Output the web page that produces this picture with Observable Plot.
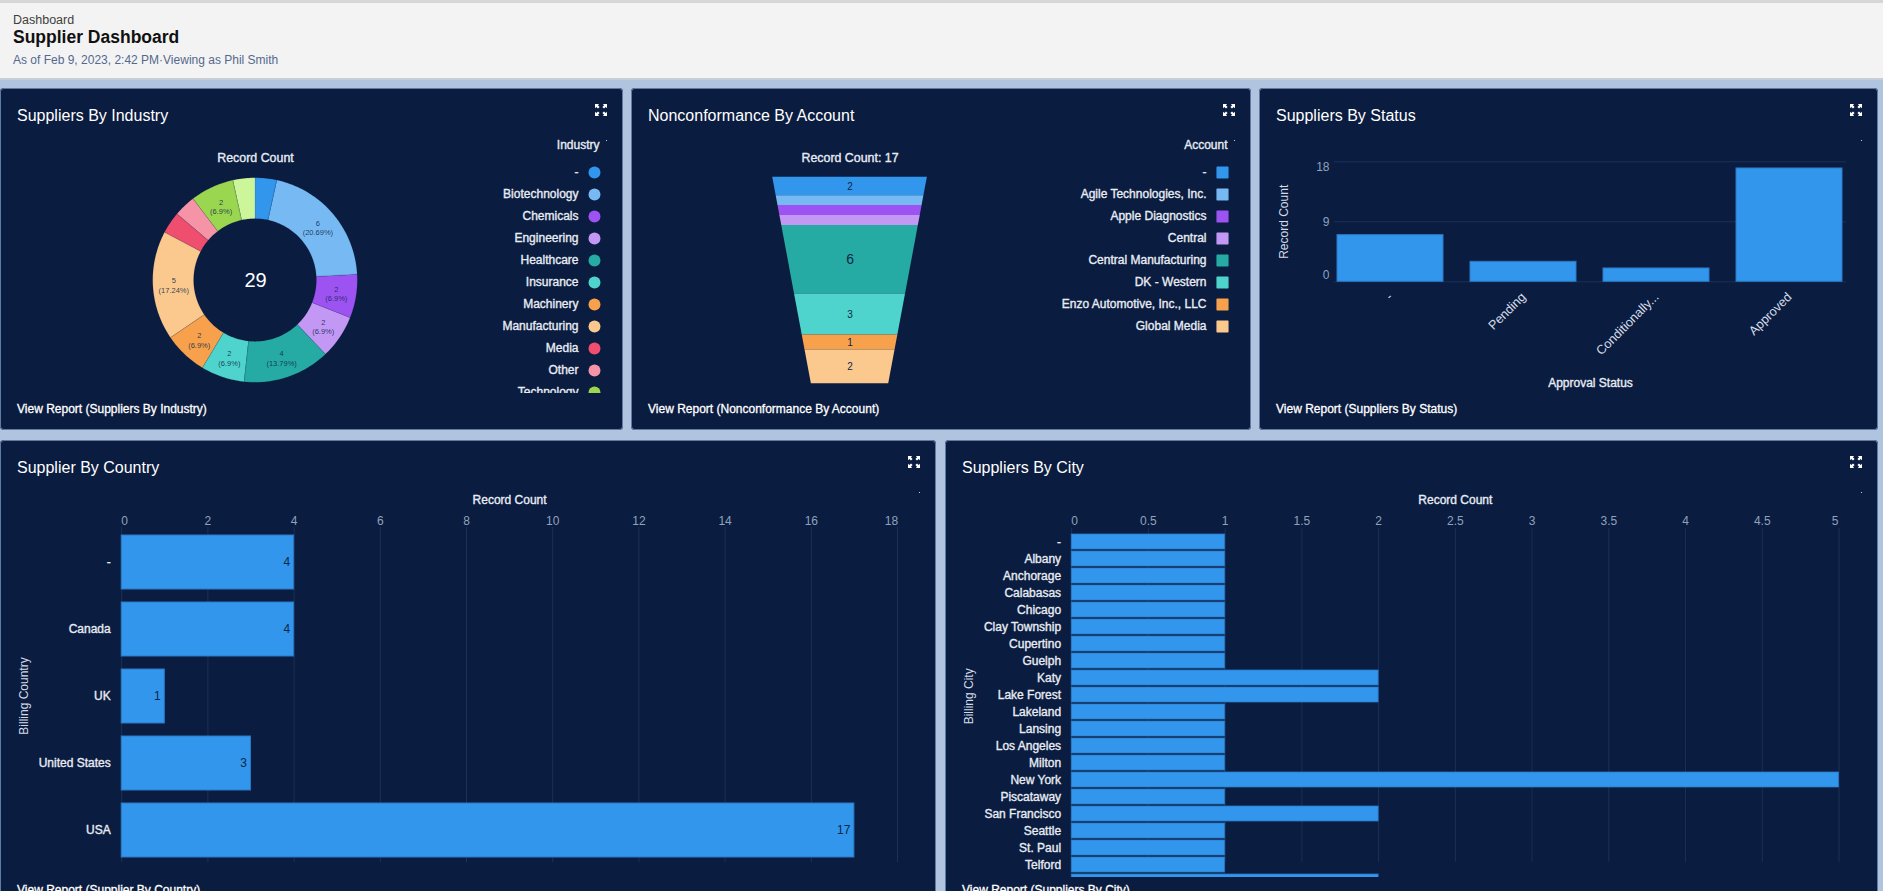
<!DOCTYPE html>
<html>
<head>
<meta charset="utf-8">
<script src="https://cdn.jsdelivr.net/npm/d3@7"></script>
<script src="https://cdn.jsdelivr.net/npm/@observablehq/plot@0.6"></script>
<style>
html,body{margin:0;padding:0;width:1883px;height:891px;overflow:hidden;background:#b0c4df;font-family:"Liberation Sans",Arial,sans-serif}
.hdr{position:absolute;left:0;top:0;width:1883px;height:80px;background:#f3f3f3;border-top:3px solid #d6d6d6;border-bottom:2px solid #c9ced6;box-sizing:border-box}
.hdr div{position:absolute;left:13px;white-space:nowrap}
.panel{position:absolute;background:#0a1c3f;border-radius:4px;box-shadow:0 0 0 1px #5f7ba3 inset;overflow:hidden}
.panel .t{position:absolute;left:17px;top:18px;color:#fff;font-size:16px;line-height:20px;white-space:nowrap}
.panel .r{position:absolute;left:17px;color:#fff;font-size:12px;line-height:16px;white-space:nowrap;-webkit-text-stroke:.3px #fff}
.panel svg.ic{position:absolute;top:16px}
.panel .d{position:absolute;top:52px;width:1px;height:1px;background:#c8d0dc}
.slot{position:absolute;overflow:hidden}
.slot svg{display:block}
</style>
</head>
<body>
<div class="hdr">
  <div style="top:10px;font-size:12.5px;line-height:14px;color:#3e3e3c">Dashboard</div>
  <div style="top:23px;font-size:17.5px;line-height:22px;font-weight:bold;color:#111">Supplier Dashboard</div>
  <div style="top:50px;font-size:12px;line-height:14px;color:#54698d">As of Feb 9, 2023, 2:42 PM·Viewing as Phil Smith</div>
</div>
<div id="root"></div>
<script>
// ---------- data ----------
const palette = ["#3296ed","#77b9f2","#9d53f2","#c398f5","#26aba4","#4ed4cd","#f7a14c","#fbc98e","#ef4e6e","#f594a6","#9ad64f","#cdf59a"];

const industryNames = ["-","Biotechnology","Chemicals","Engineering","Healthcare","Insurance","Machinery","Manufacturing","Media","Other","Technology","(cut off)"];
const industryValues = [1,6,2,2,4,2,2,5,1,1,2,1];

const accountNames = ["-","Agile Technologies, Inc.","Apple Diagnostics","Central","Central Manufacturing","DK - Western","Enzo Automotive, Inc., LLC","Global Media"];
const accountValues = [2,1,1,1,6,3,1,2];

const statusNames = ["-","Pending","Conditionally...","Approved"];
const statusValues = [7,3,2,17];

const countryNames = ["-","Canada","UK","United States","USA"];
const countryValues = [4,4,1,3,17];
const countryTicks = [0,2,4,6,8,10,12,14,16,18];

const cityNames = ["-","Albany","Anchorage","Calabasas","Chicago","Clay Township","Cupertino","Guelph","Katy","Lake Forest","Lakeland","Lansing","Los Angeles","Milton","New York","Piscataway","San Francisco","Seattle","St. Paul","Telford","(cut off)"];
const cityValues = [1,1,1,1,1,1,1,1,2,2,1,1,1,1,5,1,2,1,1,1,2];
const cityTicks = [0,0.5,1,1.5,2,2.5,3,3.5,4,4.5,5];

// ---------- styles ----------
const BRIGHT = "#e8ecf4", MUTED = "#8fa2be", GRID = "#1b3157", DARK = "#0b2748", BAR = "#3296ed", EDGE = "#2a78c4";
const FONT = '"Liberation Sans", Arial, sans-serif';
const base = {style:{background:"transparent",fontFamily:FONT,fontSize:"12px",color:BRIGHT}};
const strong = {fontSize:12, fill:BRIGHT, stroke:BRIGHT, strokeWidth:.35};
const strongAxis = {fontSize:12, fill:BRIGHT, textStroke:BRIGHT, textStrokeWidth:.35};
const tickText = {tickSize:0,label:null,fill:MUTED,fontSize:12,tickFormat:d=>String(d)};

// ---------- page scaffolding ----------
const root = document.getElementById("root");
const icon = '<path d="M0 0h4.2L2.9 1.3 4.6 3 3 4.6 1.3 2.9 0 4.2zM12 0v4.2L10.7 2.9 9 4.6 7.4 3 9.1 1.3 7.8 0zM0 12V7.8l1.3 1.3L3 7.4 4.6 9 2.9 10.7 4.2 12zM12 12H7.8l1.3-1.3L7.4 9 9 7.4l1.7 1.7L12 7.8z" fill="#fff"/>';
function panel(x,y,w,h,title,reportTop){
  const p = document.createElement("div");
  p.className = "panel";
  p.style.cssText = `left:${x}px;top:${y}px;width:${w}px;height:${h}px`;
  p.innerHTML = `<div class="t">${title}</div><div class="r" style="top:${reportTop}px">View Report (${title})</div>`+
    `<svg class="ic" width="12" height="12" viewBox="0 0 12 12" style="left:${w-28}px">${icon}</svg>`+
    `<div class="d" style="left:${w-17}px"></div>`;
  root.appendChild(p);
  return p;
}
function place(p,chart,x,y,w,h){
  const s = document.createElement("div");
  s.className = "slot";
  s.style.cssText = `left:${x}px;top:${y}px;width:${w}px;height:${h}px`;
  s.appendChild(chart);
  p.appendChild(s);
}
function legend(names,colors,heading,symbol,r,w,h,y0){
  const rows = names.map((n,i)=>({n,c:colors[i]}));
  return Plot.plot({...base,width:w,height:h,marginLeft:0,marginTop:0,marginBottom:0,marginRight:29,
    x:{axis:null},
    y:{axis:null,type:"point",padding:0,domain:names,range:[y0,y0+22*(names.length-1)]},
    marks:[
      Plot.dot(rows,{y:"n",frameAnchor:"right",fill:d=>d.c,stroke:d=>d.c,strokeWidth:symbol==="square"?1.5:0,strokeLinejoin:"round",symbol,r}),
      Plot.text(rows,{y:"n",text:"n",frameAnchor:"right",textAnchor:"end",dx:-16,...strong}),
      Plot.text([heading],{text:d=>d,frameAnchor:"top-right",textAnchor:"end",dy:5,dx:5,...strong})
    ]});
}

// ---------- Suppliers By Industry: donut ----------
{
  const p = panel(0,88,623,342,"Suppliers By Industry",313);
  const total = d3.sum(industryValues);
  const INNER = 0.6;
  const arcs = d3.pie().sort(null).value(d=>d)(industryValues);
  const band = [];
  arcs.forEach((a,i)=>{
    const n = Math.ceil((a.endAngle-a.startAngle)/0.02);
    d3.range(n+1).forEach(k=>{
      const t = a.startAngle+(a.endAngle-a.startAngle)*k/n;
      band.push({name:industryNames[i],sx:Math.sin(t),sy:Math.cos(t),ix:INNER*Math.sin(t),iy:INNER*Math.cos(t)});
    });
  });
  const labels = arcs.map((a,i)=>{
    const t=(a.startAngle+a.endAngle)/2, m=(1+INNER)/2;
    return {v:industryValues[i],x:m*Math.sin(t),y:m*Math.cos(t)};
  }).filter(d=>d.v>=2);
  place(p,Plot.plot({...base,width:510,height:342,margin:0,
    x:{axis:null,domain:[-1,1],range:[152.7,357.3]},
    y:{axis:null,domain:[-1,1],range:[294.3,89.7]},
    color:{type:"ordinal",domain:industryNames,range:palette},
    marks:[
      Plot.area(band,{x1:"sx",y1:"sy",x2:"ix",y2:"iy",z:"name",fill:"name",stroke:"#0a1c3f",strokeOpacity:.25,strokeWidth:.5}),
      Plot.text(labels,{x:"x",y:"y",text:d=>`${d.v}\n(${+(d.v/total*100).toFixed(2)}%)`,fontSize:7.5,lineHeight:1.25,fill:DARK,fillOpacity:.85}),
      Plot.text([total],{x:()=>0,y:()=>0,text:d=>String(d),fontSize:20,fill:"#fff"}),
      Plot.text(["Record Count"],{text:d=>d,frameAnchor:"top",dy:65,...strong,fontSize:12.4})
    ]}),0,0,510,342);
  place(p,legend(industryNames.slice(0,11),palette,"Industry","circle",6,223,258,37),400,47,223,258);
}

// ---------- Nonconformance By Account: funnel ----------
{
  const p = panel(631,88,620,342,"Nonconformance By Account",313);
  const total = d3.sum(accountValues);
  // each band's area is proportional to its count; the width narrows to half
  const depth = a => 2-2*Math.sqrt(1-a*0.75);
  let cum = 0;
  const pts = [], tags = [];
  accountNames.forEach((n,i)=>{
    const t0 = depth(cum/total); cum += accountValues[i]; const t1 = depth(cum/total);
    [t0,t1].forEach(t=>pts.push({n,t,l:-(1-t/2),r:1-t/2}));
    tags.push({v:accountValues[i],m:(t0+t1)/2,h:t1-t0});
  });
  const shown = tags.filter(d=>d.h>0.06);
  place(p,Plot.plot({...base,width:620,height:342,margin:0,
    x:{axis:null,domain:[-1,1],range:[141.2,295.9]},
    y:{axis:null,domain:[0,1],range:[88.7,295.3]},
    color:{type:"ordinal",domain:accountNames,range:palette},
    marks:[
      Plot.areaX(pts,{y:"t",x1:"l",x2:"r",z:"n",fill:"n"}),
      Plot.text(shown.filter(d=>d.v<6),{x:()=>0,y:"m",text:d=>String(d.v),fontSize:10,fill:DARK}),
      Plot.text(shown.filter(d=>d.v>=6),{x:()=>0,y:"m",text:d=>String(d.v),fontSize:14,fill:DARK}),
      Plot.text([`Record Count: ${total}`],{text:d=>d,x:()=>0,frameAnchor:"top",dy:65,...strong,fontSize:12.4})
    ]}),0,0,620,342);
  place(p,legend(accountNames,palette.slice(0,8),"Account","square",6,223,258,37),397,47,223,258);
}

// ---------- Suppliers By Status ----------
{
  const p = panel(1259,88,619,342,"Suppliers By Status",313);
  const rows = statusNames.map((n,i)=>({n,v:statusValues[i]}));
  place(p,Plot.plot({...base,width:618,height:342,marginLeft:74,marginRight:32,marginTop:73.3,marginBottom:148.7,
    x:{axis:null,domain:statusNames,paddingInner:.2,paddingOuter:.02},
    y:{axis:null,domain:[0,18]},
    marks:[
      Plot.ruleY([0,9,18],{stroke:GRID}),
      Plot.barY(rows,{x:"n",y:"v",fill:BAR,stroke:EDGE,strokeWidth:1}),
      Plot.axisY({...tickText,ticks:[18],tickPadding:5,dy:5.7}),
      Plot.axisY({...tickText,ticks:[9],tickPadding:5}),
      Plot.axisY({...tickText,ticks:[0],tickPadding:5,dy:-7}),
      Plot.axisX({tickRotate:-45,tickSize:0,tickPadding:13,label:null,fill:"#d4dbe7",fontSize:12.7}),
      Plot.text(["Record Count"],{text:d=>d,frameAnchor:"left",textAnchor:"middle",rotate:-90,dx:-50,fontSize:12,fill:"#d4dbe7"}),
      Plot.text(["Approval Status"],{text:d=>d,frameAnchor:"bottom",textAnchor:"middle",dy:105,...strong})
    ]}),1,0,618,342);
}

// ---------- Supplier By Country ----------
{
  const p = panel(0,440,936,470,"Supplier By Country",442);
  const rows = countryNames.map((n,i)=>({n,v:countryValues[i]}));
  place(p,Plot.plot({...base,width:936,height:451,marginLeft:121.2,marginRight:39,marginTop:87,marginBottom:27,
    x:{axis:null,domain:[0,18]},
    y:{axis:null,domain:countryNames,paddingInner:.2,paddingOuter:.1},
    marks:[
      Plot.ruleX(countryTicks,{stroke:GRID,insetBottom:2}),
      Plot.barX(rows,{y:"n",x:"v",fill:BAR,stroke:EDGE,strokeWidth:1}),
      Plot.text(rows,{y:"n",x:"v",text:d=>String(d.v),textAnchor:"end",dx:-4,fontSize:12,fill:DARK}),
      Plot.axisY({tickSize:0,tickPadding:11,label:null,...strongAxis}),
      Plot.axisX({...tickText,anchor:"top",ticks:[0],tickPadding:2.4,dx:3}),
      Plot.axisX({...tickText,anchor:"top",ticks:countryTicks.slice(1,-1),tickPadding:2.4}),
      Plot.axisX({...tickText,anchor:"top",ticks:[18],tickPadding:2.4,dx:-6}),
      Plot.text(["Record Count"],{text:d=>d,frameAnchor:"top",textAnchor:"middle",dy:-32,...strong}),
      Plot.text(["Billing Country"],{text:d=>d,frameAnchor:"left",textAnchor:"middle",rotate:-90,dx:-98,fontSize:12,fill:"#d4dbe7"})
    ]}),0,0,936,451);
}

// ---------- Suppliers By City ----------
{
  const p = panel(945,440,933,470,"Suppliers By City",442);
  const rows = cityNames.map((n,i)=>({n,v:cityValues[i]}));
  place(p,Plot.plot({...base,width:933,height:451,marginLeft:126.2,marginRight:39.5,marginTop:92.85,marginBottom:1.15,
    x:{axis:null,domain:[0,5]},
    y:{axis:null,domain:cityNames,paddingInner:.1,paddingOuter:.05},
    marks:[
      Plot.ruleX(cityTicks,{stroke:GRID,insetTop:-5,insetBottom:28}),
      Plot.barX(rows,{y:"n",x:"v",fill:BAR,stroke:EDGE,strokeWidth:.8}),
      Plot.axisY({ticks:cityNames.slice(0,20),tickSize:0,tickPadding:10.6,label:null,...strongAxis}),
      Plot.axisX({...tickText,anchor:"top",ticks:[0],tickPadding:8.4,dx:3}),
      Plot.axisX({...tickText,anchor:"top",ticks:cityTicks.slice(1,-1),tickPadding:8.4}),
      Plot.axisX({...tickText,anchor:"top",ticks:[5],tickPadding:8.4,dx:-4}),
      Plot.text(["Record Count"],{text:d=>d,frameAnchor:"top",textAnchor:"middle",dy:-38,...strong}),
      Plot.text(["Billing City"],{text:d=>d,frameAnchor:"left",textAnchor:"middle",rotate:-90,dx:-103,dy:-15.5,fontSize:12,fill:"#d4dbe7"})
    ]}),0,0,933,437);
}
</script>
</body>
</html>
